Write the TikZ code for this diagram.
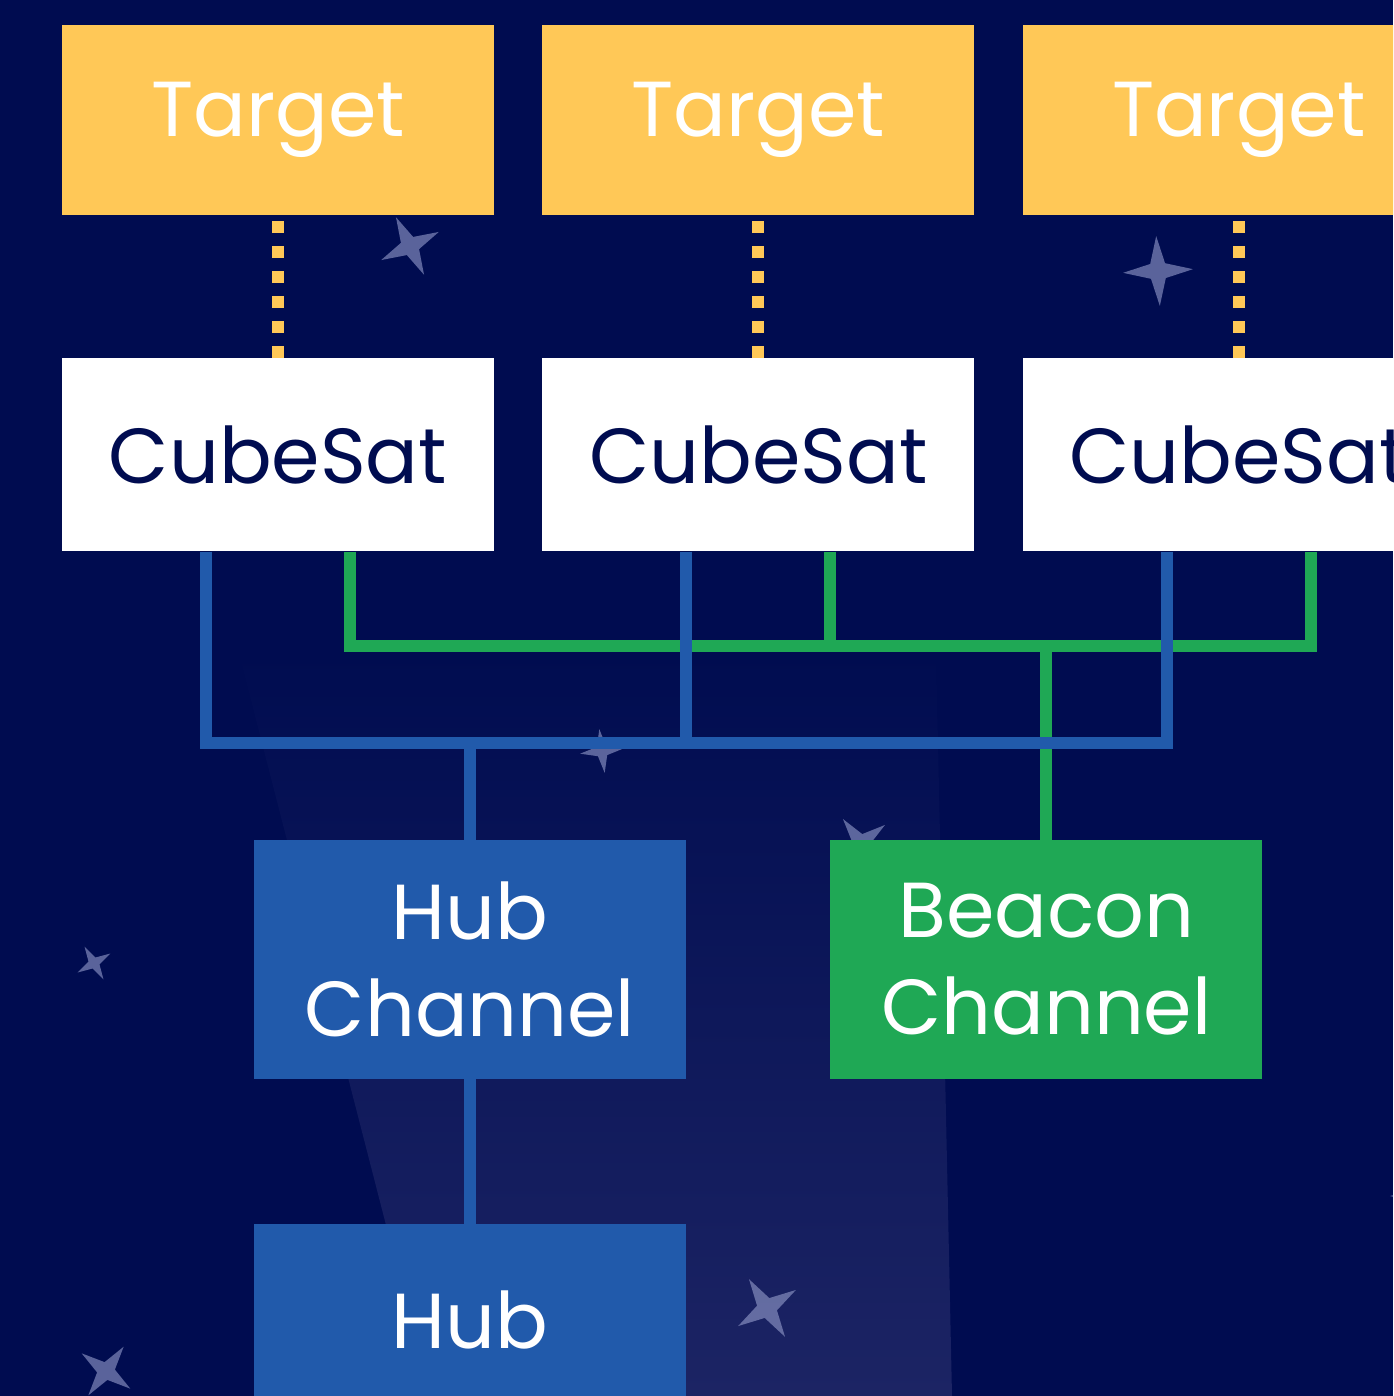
\documentclass[tikz,border=0pt]{standalone}
\usepackage{fontspec}
\setmainfont{Poppins}
\usepackage{xcolor}
\usetikzlibrary{positioning}

\definecolor{spacenavy}{RGB}{0,12,80}
\definecolor{beamnavy}{RGB}{28,36,100}
\definecolor{targetorange}{RGB}{255,200,87}
\definecolor{hubblue}{RGB}{33,90,171}
\definecolor{beacongreen}{RGB}{31,168,85}
\definecolor{starlilac}{RGB}{150,158,205}

\begin{document}
\begin{tikzpicture}[
  x=1pt, y=-1pt,
  node distance=48pt,
  box/.style={minimum width=432pt, inner sep=0pt, align=center, font=\fontsize{78}{97}\selectfont},
  target/.style={box, fill=targetorange, text=white, minimum height=190pt},
  sat/.style={box, fill=white, text=spacenavy, minimum height=193pt},
  channel/.style={box, text=white, minimum height=239pt},
  link/.style={line width=12pt},
  dotlink/.style={link, draw=targetorange, dash pattern=on 12pt off 13pt},
  hublink/.style={link, draw=hubblue},
  beaconlink/.style={link, draw=beacongreen},
  sparkle/.style={fill=starlilac, fill opacity=0.6}
]
\clip (0,0) rectangle (1393,1396);
\fill[spacenavy] (0,0) rectangle (1393,1396);

% faint light beam behind the hub
\shade[top color=spacenavy, bottom color=beamnavy] (238,650) -- (936,650) -- (952,1396) -- (430,1396) -- cycle;

% four-point stars: x/y/radius/turn
\foreach \sx/\sy/\sr/\sa in {410/246/32/26, 1158/271/35/3, 602/751/22/7, 861/843/30/37,
                             94/963/19/30, 767/1308/34/32, 106/1371/30/-36, 1410/1196/20/0}
  \fill[sparkle, shift={(\sx,\sy)}, rotate=\sa]
    (0:\sr) -- (45:{0.3*\sr}) -- (90:\sr) -- (135:{0.3*\sr}) -- (180:\sr)
    -- (225:{0.3*\sr}) -- (270:\sr) -- (315:{0.3*\sr}) -- cycle;

\node[target] (t1) at (278,120) {Target};
\node[target, right=of t1] (t2) {Target};
\node[target, right=of t2] (t3) {Target};

\node[sat, below=143pt of t1] (cs1) {CubeSat};
\node[sat, below=143pt of t2] (cs2) {CubeSat};
\node[sat, below=143pt of t3] (cs3) {CubeSat};

\node[channel, fill=hubblue] (hubch) at (470,959.5) {Hub\\Channel};
\node[channel, fill=beacongreen, right=144pt of hubch] (beacon) {Beacon\\Channel};
\node[channel, fill=hubblue, minimum height=192pt, below=145pt of hubch] (hub) {Hub};

\coordinate (hubbus) at ([yshift=97pt]hubch.north);
\coordinate (beaconbus) at ([yshift=194pt]beacon.north);

% beacon bus (under the hub bus)
\draw[beaconlink] ([xshift=72pt]cs1.south) |- ([xshift=72pt]cs3.south |- beaconbus) -- ([xshift=72pt]cs3.south);
\draw[beaconlink] ([xshift=72pt]cs2.south) -- ([xshift=72pt]cs2.south |- beaconbus);
\draw[beaconlink] (beaconbus) -- (beacon);

% hub bus
\draw[hublink] ([xshift=-72pt]cs1.south) |- ([xshift=-72pt]cs3.south |- hubbus) -- ([xshift=-72pt]cs3.south);
\draw[hublink] ([xshift=-72pt]cs2.south) -- ([xshift=-72pt]cs2.south |- hubbus);
\draw[hublink] (hubbus) -- (hubch);
\draw[hublink] (hubch) -- (hub);

% sensing links
\foreach \i in {1,2,3}
  \draw[dotlink] (cs\i) -- (t\i);
\end{tikzpicture}
\end{document}
